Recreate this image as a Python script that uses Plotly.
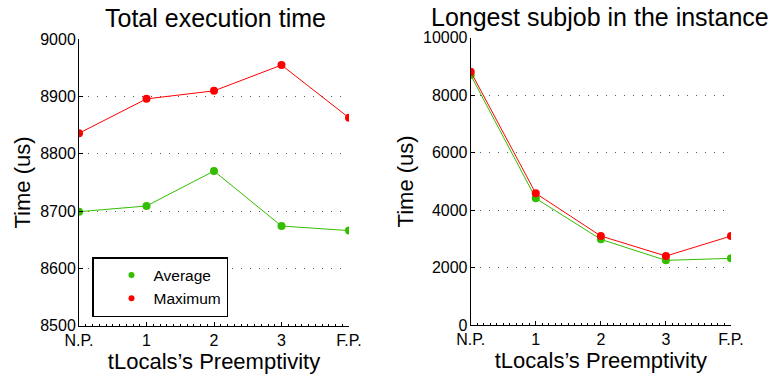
import plotly.graph_objects as go

categories = ["N.P.", "1", "2", "3", "F.P."]
total_avg = [8699, 8709, 8770, 8674, 8666]
total_max = [8836, 8896, 8910, 8955, 8863]
sub_avg = [8700, 4408, 2981, 2250, 2320]
sub_max = [8817, 4582, 3097, 2401, 3097]
left_yticks = [8500, 8600, 8700, 8800, 8900, 9000]
right_yticks = [0, 2000, 4000, 6000, 8000, 10000]

GREEN = "rgb(51,190,0)"
RED = "rgb(255,0,0)"
FONT = "Liberation Sans, Arial, sans-serif"

xs = list(range(len(categories)))

fig = go.Figure()

def add_series(y, color, xa, ya):
    fig.add_trace(go.Scatter(x=xs, y=y, mode="lines+markers",
                             line=dict(color=color, width=1),
                             marker=dict(color=color, size=8),
                             showlegend=False, xaxis=xa, yaxis=ya,
                             hoverinfo="skip"))

add_series(total_avg, GREEN, "x", "y")
add_series(total_max, RED, "x", "y")
add_series(sub_avg, GREEN, "x2", "y2")
add_series(sub_max, RED, "x2", "y2")

# legend entries (markers only)
for name, color in [("Average", GREEN), ("Maximum", RED)]:
    fig.add_trace(go.Scatter(x=[None], y=[None], mode="markers", name=name,
                             marker=dict(color=color, size=6), xaxis="x", yaxis="y"))

xcommon = dict(tickvals=xs, ticktext=categories, range=[0, 4], automargin=False,
               showline=True, linecolor="black", linewidth=1,
               ticks="inside", ticklen=4, tickcolor="black",
               minor=dict(ticks="inside", dtick=0.1, ticklen=2, tickcolor="black"),
               showgrid=False, zeroline=False, ticklabelstandoff=0,
               tickfont=dict(size=16, color="black", family=FONT),
               title=dict(text="tLocals’s Preemptivity", font=dict(size=22, color="black", family=FONT),
                          standoff=2))
ycommon = dict(showline=True, linecolor="black", linewidth=1, automargin=False,
               ticks="inside", ticklen=4, tickcolor="black",
               showgrid=True, gridcolor="rgb(90,90,90)", griddash="1px,8px", gridwidth=1,
               zeroline=False, ticklabelstandoff=-1,
               tickfont=dict(size=16, color="black", family=FONT),
               title=dict(text="Time (us)", font=dict(size=22, color="black", family=FONT),
                          standoff=3))

fig.update_layout(
    template="none",
    width=771, height=378,
    margin=dict(l=0, r=0, t=0, b=0, pad=0, autoexpand=False),
    paper_bgcolor="white", plot_bgcolor="white",
    font=dict(family=FONT, color="black"),
    xaxis=dict(domain=[79/771, 349/771], anchor="y", **xcommon),
    yaxis=dict(domain=[1-325.7/378, 1-39.3/378], anchor="x", range=[8500, 9000],
               tickvals=left_yticks, ticktext=[str(v) for v in left_yticks], **ycommon),
    xaxis2=dict(domain=[470.7/771, 731/771], anchor="y2", **xcommon),
    yaxis2=dict(domain=[1-325/378, 1-37.7/378], anchor="x2", range=[0, 10000],
                tickvals=right_yticks, ticktext=[str(v) for v in right_yticks], **ycommon),
    legend=dict(x=92/771, y=1-257/378, xanchor="left", yanchor="top",
                bordercolor="black", borderwidth=1.5, bgcolor="white",
                font=dict(size=15.5, color="black", family=FONT),
                itemwidth=34, indentation=16, tracegroupgap=0),
    showlegend=True,
    annotations=[
        dict(text="Total execution time", x=215/771, y=1-18/378, xref="paper", yref="paper",
             showarrow=False, font=dict(size=25, color="black", family=FONT),
             xanchor="center", yanchor="middle"),
        dict(text="Longest subjob in the instance", x=600/771, y=1-17/378, xref="paper", yref="paper",
             showarrow=False, font=dict(size=25, color="black", family=FONT),
             xanchor="center", yanchor="middle"),
    ],
)

fig.write_html("out.html")
